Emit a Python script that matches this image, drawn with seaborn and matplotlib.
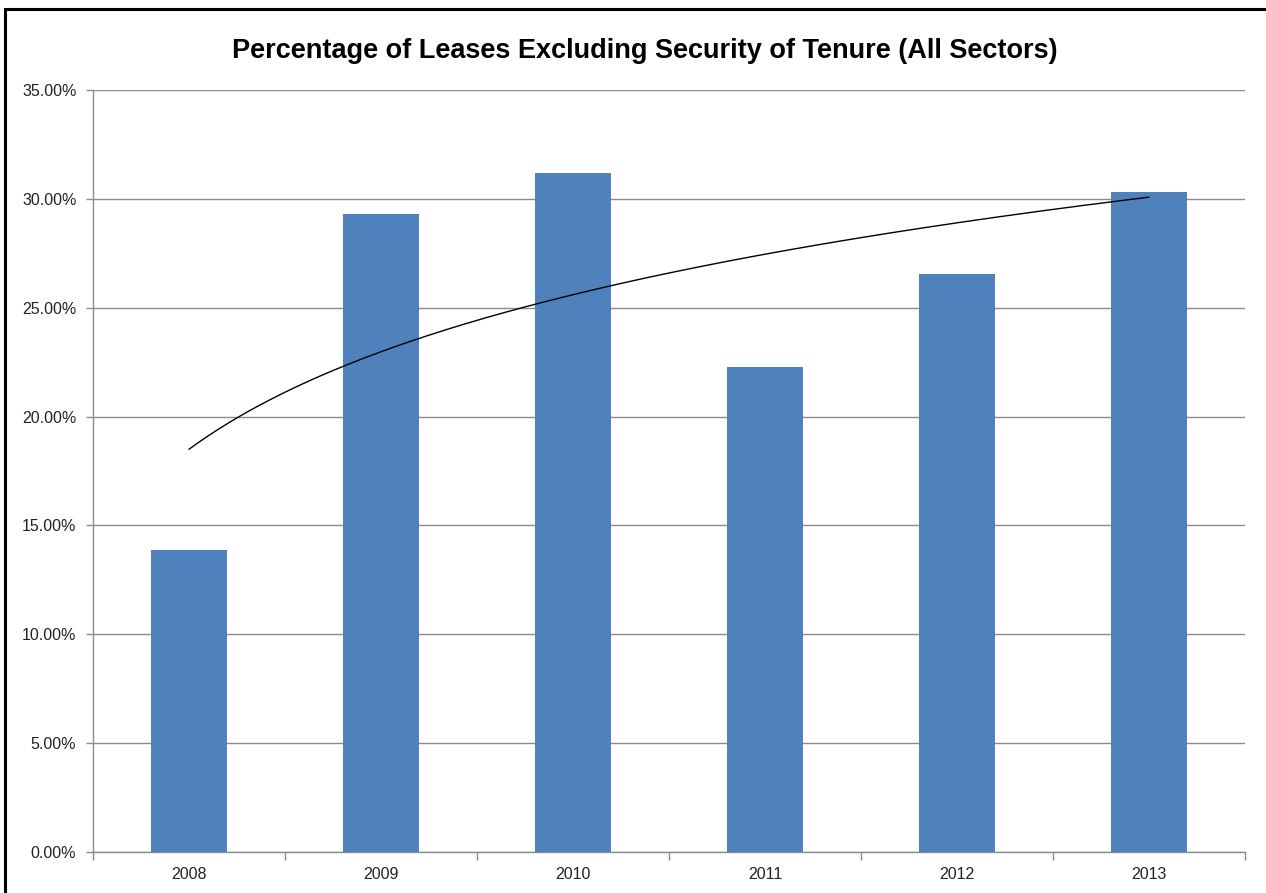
import numpy as np
import pandas as pd
import matplotlib
matplotlib.use("Agg")
import matplotlib.pyplot as plt
import seaborn as sns
from matplotlib.ticker import FixedLocator, FuncFormatter, NullFormatter
from matplotlib.patches import Rectangle

years = ["2008", "2009", "2010", "2011", "2012", "2013"]
values = [13.87, 29.30, 31.19, 22.28, 26.55, 30.32]
title = "Percentage of Leases Excluding Security of Tenure (All Sectors)"
bar_color = "#4F81BD"

sns.set_theme(style="white")
plt.rcParams['font.family'] = ['Liberation Sans', 'DejaVu Sans']

fig = plt.figure(figsize=(12.66, 8.93), dpi=100)
ax = fig.add_axes([93/1266, 1-852/893, (1245-93)/1266, (852-90)/893])

df = pd.DataFrame({"year": years, "value": values})
sns.barplot(data=df, x="year", y="value", color=bar_color, width=0.40,
            saturation=1, ax=ax, zorder=3, edgecolor=bar_color, linewidth=0)

# logarithmic trendline (Excel style)
xs = np.arange(1, len(values) + 1)
b, a = np.polyfit(np.log(xs), values, 1)
xf = np.linspace(1, len(values), 300)
ax.plot(xf - 1, a + b * np.log(xf), color="black", lw=1.0, zorder=4)

ax.set_xlim(-0.5, len(years) - 0.5)
ax.set_ylim(0, 35)
ax.set_yticks(np.arange(0, 36, 5))
ax.yaxis.set_major_formatter(FuncFormatter(lambda v, p: f"{v:.2f}%"))
ax.grid(axis="y", color="#8c8c8c", lw=1.0, zorder=0)
ax.set_axisbelow(True)
ax.set_xlabel("")
ax.set_ylabel("")

for s in ["top", "right"]:
    ax.spines[s].set_visible(False)
for s in ["left", "bottom"]:
    ax.spines[s].set_color("#8c8c8c")
    ax.spines[s].set_linewidth(1.0)

ax.tick_params(axis="x", which="major", length=0, pad=11, labelsize=11.5, colors="#222222")
ax.xaxis.set_minor_locator(FixedLocator(np.arange(-0.5, len(years), 1.0)))
ax.xaxis.set_minor_formatter(NullFormatter())
ax.tick_params(axis="x", which="minor", length=6, width=1.0, color="#8c8c8c", direction="out", bottom=True)
ax.tick_params(axis="y", length=5, width=1.0, color="#8c8c8c", direction="out", labelsize=11.5,
               left=True, pad=7, labelcolor="#222222")

fig.text(645/1266, 1-51/893, title, ha="center", va="center", fontsize=19.5,
         fontweight="bold", family=['Liberation Sans Narrow', 'Liberation Sans', 'DejaVu Sans'], color="black")

fig.patches.append(Rectangle((5/1266, -0.1), 1.2, 1 - 9/893 + 0.1, transform=fig.transFigure,
                             fill=False, edgecolor="black", lw=2.2, figure=fig))

fig.savefig("out.png", dpi=100)
